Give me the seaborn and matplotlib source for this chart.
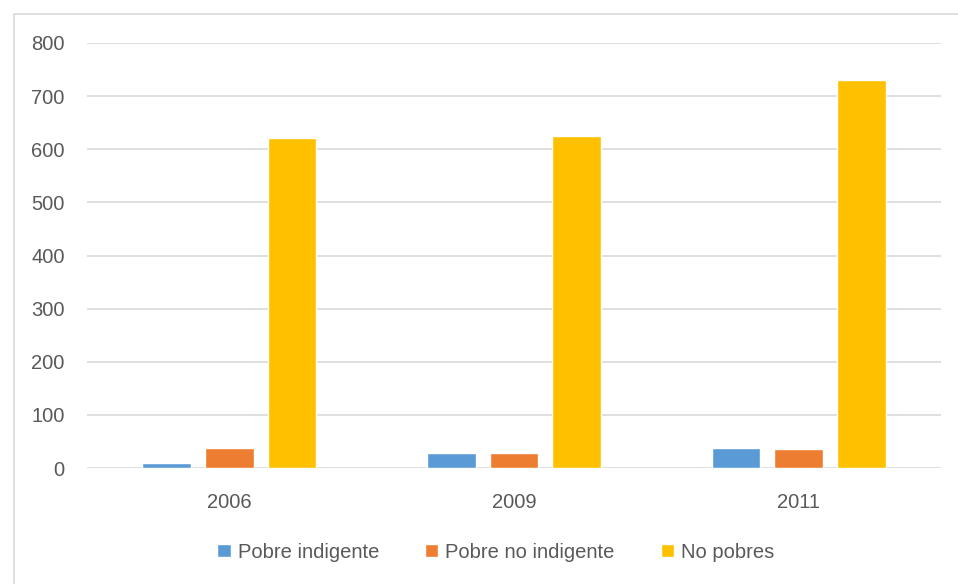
import seaborn as sns
import pandas as pd
import matplotlib.pyplot as plt
from matplotlib.patches import Rectangle

# values
years = ['2006', '2009', '2011']
series = ['Pobre indigente', 'Pobre no indigente', 'No pobres']
pobre_indigente = [9, 28, 37]
pobre_no_indigente = [37, 28, 36]
no_pobres = [621, 625, 731]
colors = ['#5B9BD5', '#ED7D31', '#FFC000']

df = pd.DataFrame({
    'year': years * 3,
    'serie': [s for s in series for _ in years],
    'valor': pobre_indigente + pobre_no_indigente + no_pobres,
})

sns.set_theme(style='white')
plt.rcParams['font.family'] = ['Liberation Sans', 'DejaVu Sans']

fig = plt.figure(figsize=(9.58, 5.84), dpi=100)
ax = fig.add_axes([87 / 958, 1 - 468 / 584, (941 - 87) / 958, (468 - 43) / 584])

sns.barplot(data=df, x='year', y='valor', hue='serie', hue_order=series,
            palette=colors, saturation=1, width=0.66, gap=0.22,
            errorbar=None, ax=ax, zorder=3)

ax.set_ylim(0, 800)
ax.set_xlim(-0.5, 2.5)
ax.set_yticks(range(0, 801, 100))
ax.set_xlabel('')
ax.set_ylabel('')
ax.yaxis.grid(True, color='#D9D9D9', linewidth=1.2, zorder=0)
ax.set_axisbelow(True)
for s in ax.spines.values():
    s.set_visible(False)
ax.tick_params(axis='both', length=0, labelcolor='#595959', labelsize=14.5)
ax.tick_params(axis='y', pad=16)
ax.tick_params(axis='x', pad=18)

leg = ax.legend(loc='center', bbox_to_anchor=(496 / 958, 1 - 552 / 584),
                bbox_transform=fig.transFigure, ncol=3, frameon=False,
                handlelength=0.65, handleheight=0.65, handletextpad=0.35,
                columnspacing=2.3, fontsize=14.5)
for t in leg.get_texts():
    t.set_color('#595959')

fig.patches.append(Rectangle((14 / 958, -0.02), 1.0, 1 - 14 / 584 + 0.02,
                             transform=fig.transFigure, fill=False,
                             edgecolor='#D9D9D9', linewidth=1.2))

fig.savefig('out.png', dpi=100, facecolor='white')
